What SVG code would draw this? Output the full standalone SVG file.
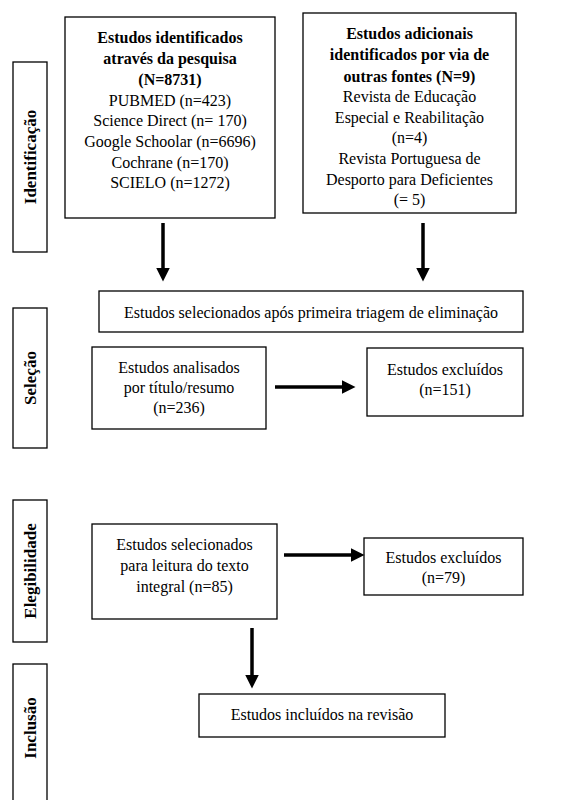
<svg xmlns="http://www.w3.org/2000/svg" width="578" height="800" viewBox="0 0 578 800">
<style>
.box{fill:#ffffff;stroke:#000;stroke-width:1.3}
.t{font-family:"Liberation Serif","Times New Roman",serif;font-size:16px;fill:#000;text-anchor:middle}
.b{font-weight:bold}
.v{font-family:"Liberation Serif","Times New Roman",serif;font-size:17px;font-weight:bold;fill:#000;text-anchor:middle}
.c{stroke:#000;stroke-width:3.5;fill:none}
</style>
<defs>
<marker id="ah" markerWidth="4" markerHeight="4" refX="1" refY="2" orient="auto" markerUnits="strokeWidth">
<path d="M0,0 L4,2 L0,4 Z" fill="#000"/>
</marker>
</defs>
<rect width="578" height="800" fill="#fff"/>
<g id="stage-identificacao"><rect class="box" x="13" y="62" width="34" height="190"/><text class="v" transform="translate(36,157) rotate(-90)">Identificação</text></g>
<g id="stage-selecao"><rect class="box" x="13" y="308" width="34" height="140"/><text class="v" transform="translate(36,378) rotate(-90)">Seleção</text></g>
<g id="stage-elegibilidade"><rect class="box" x="13" y="500" width="34" height="142"/><text class="v" transform="translate(36,571) rotate(-90)">Elegibilidade</text></g>
<g id="stage-inclusao"><rect class="box" x="13" y="664" width="34" height="145"/><text class="v" transform="translate(36,728) rotate(-90)">Inclusão</text></g>
<g id="n-pesquisa"><rect class="box" x="65" y="17" width="210" height="201"/>
<text class="t b" x="170" y="43">Estudos identificados</text>
<text class="t b" x="170" y="64">através da pesquisa</text>
<text class="t b" x="170" y="85">(N=8731)</text>
<text class="t" x="170" y="106">PUBMED (n=423)</text>
<text class="t" x="170" y="126">Science Direct (n= 170)</text>
<text class="t" x="170" y="147">Google Schoolar (n=6696)</text>
<text class="t" x="170" y="168">Cochrane (n=170)</text>
<text class="t" x="170" y="188">SCIELO (n=1272)</text>
</g>
<g id="n-outras"><rect class="box" x="303" y="13" width="213" height="200"/>
<text class="t b" x="409.5" y="39">Estudos adicionais</text>
<text class="t b" x="409.5" y="60">identificados por via de</text>
<text class="t b" x="409.5" y="82">outras fontes (N=9)</text>
<text class="t" x="409.5" y="102">Revista de Educação</text>
<text class="t" x="409.5" y="123">Especial e Reabilitação</text>
<text class="t" x="409.5" y="143">(n=4)</text>
<text class="t" x="409.5" y="164">Revista Portuguesa de</text>
<text class="t" x="409.5" y="185">Desporto para Deficientes</text>
<text class="t" x="409.5" y="205">(= 5)</text>
</g>
<g id="n-triagem"><rect class="box" x="99" y="291" width="424" height="41"/>
<text class="t" x="311" y="318">Estudos selecionados após primeira triagem de eliminação</text></g>
<g id="n-analisados"><rect class="box" x="92" y="347" width="174" height="82"/>
<text class="t" x="179" y="373">Estudos analisados</text>
<text class="t" x="179" y="393">por título/resumo</text>
<text class="t" x="179" y="413">(n=236)</text></g>
<g id="n-excl1"><rect class="box" x="367" y="348" width="156" height="68"/>
<text class="t" x="445" y="375">Estudos excluídos</text>
<text class="t" x="445" y="395">(n=151)</text></g>
<g id="n-integral"><rect class="box" x="92" y="524" width="185" height="95"/>
<text class="t" x="184.5" y="550">Estudos selecionados</text>
<text class="t" x="184.5" y="571">para leitura do texto</text>
<text class="t" x="184.5" y="592">integral (n=85)</text></g>
<g id="n-excl2"><rect class="box" x="364" y="538" width="159" height="57"/>
<text class="t" x="443.5" y="563">Estudos excluídos</text>
<text class="t" x="443.5" y="583">(n=79)</text></g>
<g id="n-incluidos"><rect class="box" x="199" y="694" width="246" height="43"/>
<text class="t" x="322" y="720">Estudos incluídos na revisão</text></g>
<g id="connectors">
<line class="c" x1="163" y1="223" x2="163" y2="271" marker-end="url(#ah)"/>
<line class="c" x1="423" y1="223" x2="423" y2="271" marker-end="url(#ah)"/>
<line class="c" x1="275" y1="387" x2="345" y2="387" marker-end="url(#ah)"/>
<line class="c" x1="284" y1="555" x2="354" y2="555" marker-end="url(#ah)"/>
<line class="c" x1="252" y1="628" x2="252" y2="678" marker-end="url(#ah)"/>
</g>
</svg>
